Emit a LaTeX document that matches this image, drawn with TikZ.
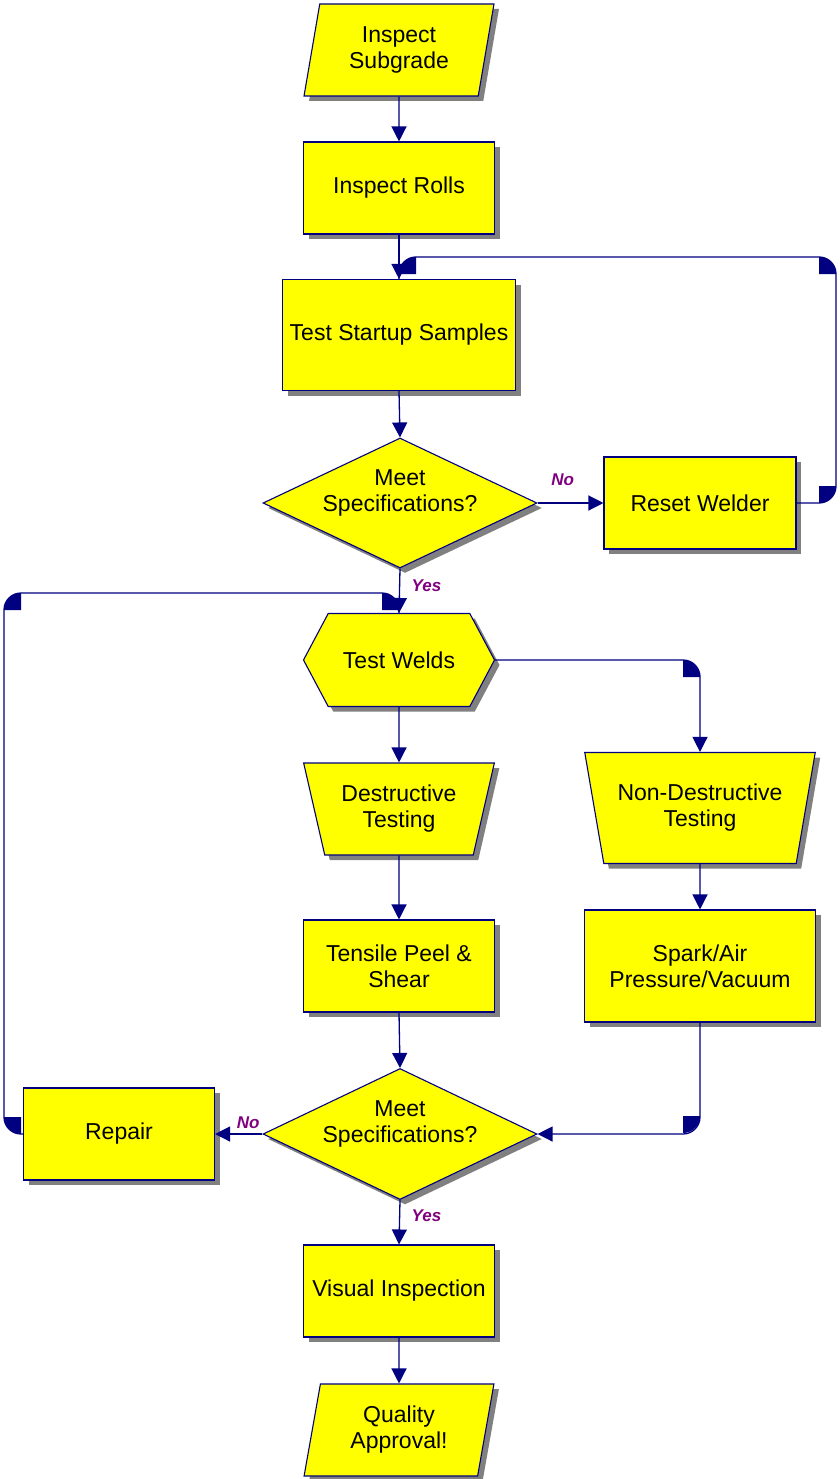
\documentclass[tikz,border=0pt]{standalone}
\usepackage{fontspec}
\setmainfont{Liberation Sans}
\usetikzlibrary{shapes.geometric,shapes.symbols,shadows,arrows.meta}

\definecolor{flowline}{RGB}{0,0,128}
\definecolor{flowfill}{RGB}{255,255,0}
\definecolor{flowshade}{RGB}{128,128,128}
\definecolor{flowlabel}{RGB}{128,0,128}

\newcommand{\bendmark}[2]{\fill[flowline] (#1) -- ++(#2:17) arc[start angle=#2,delta angle=90,radius=17] -- cycle;}
\newcommand{\liftpair}[2]{\raisebox{3pt}[24pt][24pt]{\begin{tabular}{@{}c@{}}#1\\#2\end{tabular}}}

\begin{document}
\begin{tikzpicture}[x=1pt,y=-1pt,
  box/.style={draw=flowline,line width=1.1pt,fill=flowfill,align=center,
    font=\fontsize{23}{26}\selectfont,inner sep=0pt,
    drop shadow={shadow xshift=5pt,shadow yshift=-5pt,fill=flowshade,opacity=1}},
  process/.style={box,rectangle,minimum width=#1,minimum height=92pt},
  slant/.style={box,trapezium,trapezium left angle=78,trapezium right angle=102,
    trapezium stretches=true,minimum width=190pt,minimum height=92pt},
  manual/.style={box,trapezium,trapezium left angle=109,trapezium right angle=109,
    trapezium stretches=true},
  decide/.style={box,diamond,aspect=2.1,minimum width=274pt,minimum height=130pt},
  prep/.style={box,signal,signal to=west and east,signal pointer angle=124,
    minimum width=191pt,minimum height=93pt},
  link/.style={draw=flowline,line width=1.3pt},
  go/.style={link,-{Triangle[length=15pt,width=15pt]}},
  answer/.style={text=flowlabel,font=\fontsize{17}{19}\selectfont\bfseries\itshape}]
  \useasboundingbox (0,0) rectangle (839,1479);

  \node[slant] (subgrade) at (399,50) {Inspect\\Subgrade};
  \node[process=191pt] (rolls) at (399,188) {Inspect Rolls};
  \node[process=233pt,minimum height=111pt] (startup) at (399,335) {Test Startup Samples};
  \node[decide] (meet1) at (400,503) {\liftpair{Meet}{Specifications?}};
  \node[process=192pt] (reset) at (700,503) {Reset Welder};
  \node[prep] (welds) at (399,660) {Test Welds};
  \node[manual,minimum width=191pt,minimum height=92pt] (destr) at (399,809) {Destructive\\Testing};
  \node[manual,minimum width=231pt,minimum height=111pt] (nondestr) at (700,808) {Non-Destructive\\Testing};
  \node[process=191pt] (tensile) at (399,966) {Tensile Peel \&\\Shear};
  \node[process=231pt,minimum height=112pt] (spark) at (700,966) {Spark/Air\\Pressure/Vacuum};
  \node[decide,minimum height=131pt] (meet2) at (400,1134) {\liftpair{Meet}{Specifications?}};
  \node[process=191pt] (repair) at (119,1134) {Repair};
  \node[process=191pt] (visual) at (399,1291) {Visual Inspection};
  \node[slant] (quality) at (399,1430) {Quality\\Approval!};

  \coordinate (resetloop) at (836,257);
  \coordinate (repairloop) at (4,593);

  \path[go] (subgrade.south) -- (rolls.north);
  \path[go] (rolls.south) -- (startup.north);
  \path[go] (startup.south) -- (meet1.north);
  \path[go] (meet1.east) -- node[answer,above=13pt,pos=0.38] {No} (reset.west);
  \path[link,rounded corners=17pt] (reset.east) -| (resetloop) -| (startup.north);
  \path[go] (meet1.south) -- node[answer,right=8pt,pos=0.38] {Yes} (welds.north);
  \path[link,rounded corners=17pt] (repair.west) -| (repairloop) -| (welds.north);
  \path[go,rounded corners=17pt] (welds.east) -| (nondestr.north);
  \path[go] (welds.south) -- (destr.north);
  \path[go] (destr.south) -- (tensile.north);
  \path[go] (nondestr.south) -- (spark.north);
  \path[go] (tensile.south) -- (meet2.north);
  \path[go,rounded corners=17pt] (spark.south) |- (meet2.east);
  \path[go] (meet2.west) -- node[answer,above=1pt,pos=0.3] {No} (repair.east);
  \path[go] (meet2.south) -- node[answer,right=8pt,pos=0.35] {Yes} (visual.north);
  \path[go] (visual.south) -- (quality.north);

  \bendmark{819,486}{0}
  \bendmark{819,274}{270}
  \bendmark{416,274}{180}
  \bendmark{21,1117}{90}
  \bendmark{21,610}{180}
  \bendmark{382,610}{270}
  \bendmark{683,677}{270}
  \bendmark{683,1116}{0}
\end{tikzpicture}
\end{document}
